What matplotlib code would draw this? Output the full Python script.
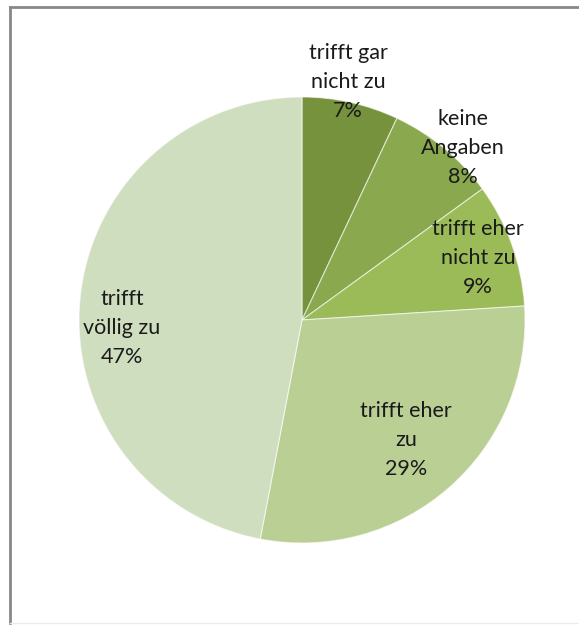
import matplotlib
matplotlib.use("Agg")
import matplotlib.pyplot as plt
from matplotlib.lines import Line2D

categories = ["trifft gar\nnicht zu", "keine\nAngaben", "trifft eher\nnicht zu", "trifft eher\nzu", "trifft\nvöllig zu"]
values = [7, 8, 9, 29, 47]
colors = ["#76923c", "#8aa84e", "#9bbb59", "#bacf94", "#d0dec0"]
# label centres relative to pie centre, in radius units
label_xy = [(0.206, 1.067), (0.722, 0.771), (0.789, 0.278), (0.466, -0.538), (-0.807, -0.036)]

W, H = 579, 628
fig = plt.figure(figsize=(W / 100, H / 100), dpi=100)
fig.patch.set_facecolor("white")

cx, cy, R = 302, 320, 223
ax = fig.add_axes([(cx - R) / W, (H - cy - R) / H, 2 * R / W, 2 * R / H])
ax.pie(values, colors=colors, startangle=90, counterclock=False, radius=1,
       wedgeprops=dict(edgecolor=(1, 1, 1, 0.6), linewidth=0.8))
ax.set_xlim(-1, 1)
ax.set_ylim(-1, 1)
ax.set_aspect("auto")
ax.axis("off")

for cat, v, (x, y) in zip(categories, values, label_xy):
    ax.text(x, y, f"{cat}\n{v}%", ha="center", va="center", fontsize=15.5,
            family=["Lato", "DejaVu Sans"], color="#1a1a1a", linespacing=1.55)

# chart frame
fig.add_artist(Line2D([10 / W, 1.0], [1 - 7 / H, 1 - 7 / H], color="#888888", lw=2, transform=fig.transFigure))
fig.add_artist(Line2D([10 / W, 10 / W], [1 - 7 / H, 1 - 623 / H], color="#888888", lw=2, transform=fig.transFigure))
fig.add_artist(Line2D([10 / W, 1.0], [1 - 623 / H, 1 - 623 / H], color="#ececec", lw=1, transform=fig.transFigure))

fig.savefig("out.png", dpi=100, facecolor="white")
